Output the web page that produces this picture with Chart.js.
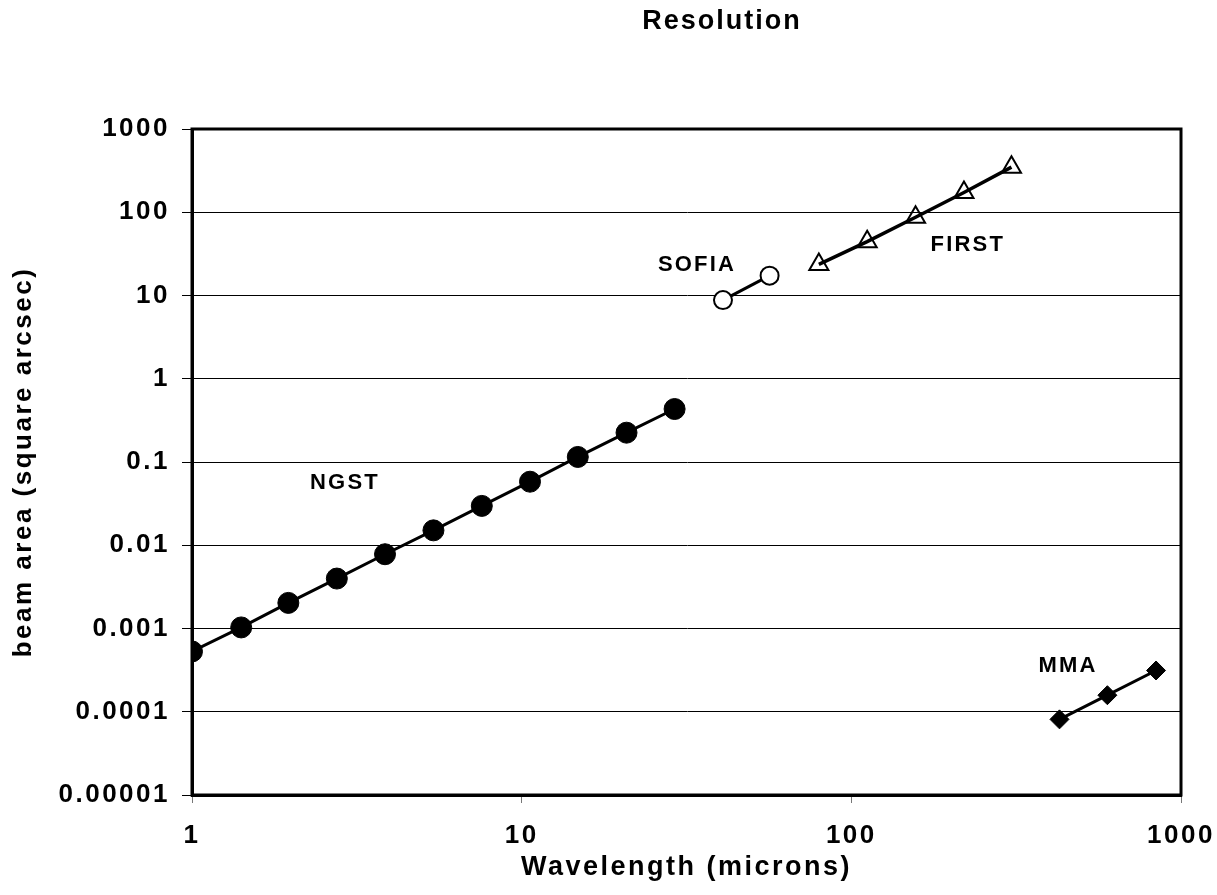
<!DOCTYPE html>
<html>
<head>
<meta charset="utf-8">
<title>Resolution</title>
<script src="https://cdn.jsdelivr.net/npm/chart.js@4/dist/chart.umd.min.js"></script>
<style>
    body { margin: 0; background: #fff; }
    #wrap { width: 1217px; height: 895px; }
</style>
</head>
<body>
<div id="wrap"><canvas id="chart" width="1217" height="895"></canvas></div>
<script>
// wavelength (microns) and beam area (square arcsec)
const ngstX = [1, 1.41, 1.96, 2.75, 3.85, 5.4, 7.57, 10.6, 14.8, 20.8, 29.1];
const ngstY = [0.00053, 0.00103, 0.00203, 0.00398, 0.0078, 0.0151, 0.0297, 0.058, 0.115, 0.225, 0.433];
const sofiaX = [40.8, 56.5];
const sofiaY = [8.8, 17.3];
const firstX = [79.7, 111.7, 156.6, 219.6, 306];
const firstY = [23.6, 44.3, 87.1, 172.6, 348];
const mmaX = [428, 598, 840];
const mmaY = [0.000081, 0.000158, 0.000313];

const xTicks = [1, 10, 100, 1000];
const xTickLabels = ["1", "10", "100", "1000"];
const yTicks = [0.00001, 0.0001, 0.001, 0.01, 0.1, 1, 10, 100, 1000];
const yTickLabels = ["0.00001", "0.0001", "0.001", "0.01", "0.1", "1", "10", "100", "1000"];

// instrument names written beside the lines
const labelNames = ["NGST", "SOFIA", "FIRST", "MMA"];
const labelX = [2.89, 33.8, 224, 451];
const labelY = [0.056, 23.2, 40.5, 0.000355];

const FONT = "'Liberation Sans', Arial, sans-serif";

function pts(xs, ys) {
    return xs.map((x, i) => ({ x: x, y: ys[i] }));
}

const frameAndText = {
    id: "frameAndText",
    beforeLayout(chart) { chart.ctx.letterSpacing = "2.5px"; },
    beforeDraw(chart) { chart.ctx.letterSpacing = "2.5px"; },
    afterDraw(chart) {
        const ctx = chart.ctx;
        const a = chart.chartArea;
        ctx.save();
        ctx.strokeStyle = "#000";
        ctx.lineWidth = 3;
        ctx.strokeRect(a.left, a.top, a.right - a.left, a.bottom - a.top);

        ctx.fillStyle = "#000";
        ctx.textAlign = "center";
        ctx.textBaseline = "middle";
        ctx.font = "bold 22px " + FONT;
        ctx.letterSpacing = "2.2px";
        const xs = chart.scales.x, ys = chart.scales.y;
        for (let i = 0; i < labelNames.length; i++) {
            ctx.fillText(labelNames[i], xs.getPixelForValue(labelX[i]) + 1, ys.getPixelForValue(labelY[i]));
        }
        ctx.font = "bold 27px " + FONT;
        ctx.letterSpacing = "2px";
        ctx.fillText("Resolution", 722, 22);
        ctx.restore();
    }
};

const ctx = document.getElementById("chart").getContext("2d");
const myChart = new Chart(ctx, {
    type: "scatter",
    data: {
        datasets: [{
            label: "NGST",
            data: pts(ngstX, ngstY),
            showLine: true,
            borderColor: "#000",
            borderWidth: 3,
            pointStyle: "circle",
            pointRadius: 10.5,
            pointBackgroundColor: "#000",
            pointBorderColor: "#000",
            pointBorderWidth: 1
        }, {
            label: "SOFIA",
            data: pts(sofiaX, sofiaY),
            showLine: true,
            borderColor: "#000",
            borderWidth: 3,
            pointStyle: "circle",
            pointRadius: 9,
            pointBackgroundColor: "#fff",
            pointBorderColor: "#000",
            pointBorderWidth: 2
        }, {
            label: "FIRST",
            data: pts(firstX, firstY),
            showLine: true,
            borderColor: "#000",
            borderWidth: 3.5,
            pointStyle: "triangle",
            pointRadius: 11,
            pointBackgroundColor: "rgba(0,0,0,0)",
            pointBorderColor: "#000",
            pointBorderWidth: 2
        }, {
            label: "MMA",
            data: pts(mmaX, mmaY),
            showLine: true,
            borderColor: "#000",
            borderWidth: 3,
            pointStyle: "rectRot",
            pointRadius: 9.5,
            pointBackgroundColor: "#000",
            pointBorderColor: "#000",
            pointBorderWidth: 1
        }]
    },
    options: {
        responsive: false,
        animation: false,
        layout: { padding: { top: 129, right: 36, left: 0, bottom: 0 } },
        plugins: {
            legend: { display: false },
            tooltip: { enabled: false }
        },
        scales: {
            x: {
                type: "logarithmic",
                min: 1,
                max: 1000,
                afterBuildTicks: s => { s.ticks = xTicks.map(v => ({ value: v })); },
                afterFit: s => { s.height = 100; s.paddingLeft = 0; s.paddingRight = 0; },
                ticks: {
                    color: "#000",
                    padding: 17,
                    maxRotation: 0,
                    autoSkip: false,
                    font: { family: FONT, size: 26, weight: "bold" },
                    callback: (v) => xTickLabels[xTicks.indexOf(v)]
                },
                grid: { drawOnChartArea: false, color: "#777", tickLength: 8 },
                border: { display: true, color: "#000", width: 3 },
                title: {
                    display: true,
                    text: "Wavelength (microns)",
                    color: "#000",
                    padding: { top: 0, bottom: 11 },
                    font: { family: FONT, size: 27, weight: "bold" }
                }
            },
            y: {
                type: "logarithmic",
                min: 0.00001,
                max: 1000,
                afterBuildTicks: s => { s.ticks = yTicks.map(v => ({ value: v })); },
                afterFit: s => { s.width = 192; s.paddingTop = 0; s.paddingBottom = 0; },
                ticks: {
                    color: "#000",
                    padding: 12,
                    autoSkip: false,
                    font: { family: FONT, size: 26, weight: "bold" },
                    callback: (v) => yTickLabels[yTicks.indexOf(v)]
                },
                grid: { color: "#000", lineWidth: 1, tickLength: 10 },
                border: { display: true, color: "#000", width: 3 },
                title: {
                    display: true,
                    text: "beam area (square arcsec)",
                    color: "#000",
                    padding: { top: 8, bottom: 0 },
                    font: { family: FONT, size: 26, weight: "bold" }
                }
            }
        }
    },
    plugins: [frameAndText]
});
</script>
</body>
</html>
